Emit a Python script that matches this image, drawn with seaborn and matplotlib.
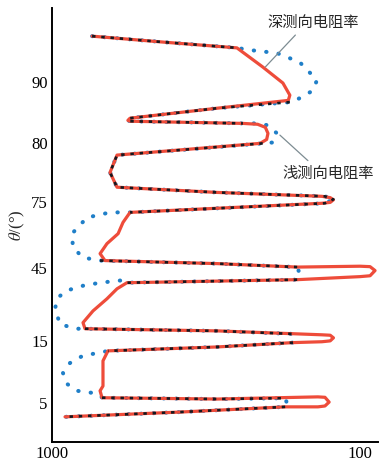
import numpy as np
import pandas as pd
import seaborn as sns
import matplotlib
matplotlib.use("Agg")
from matplotlib import pyplot as plt

# deep laterolog resistivity (ohm.m) along the track, top to bottom
deep_res = [741, 430, 251, 207, 178, 169, 171, 291, 558, 567, 558, 240, 215, 203, 199, 201,
            211, 615, 648, 615, 291, 133, 125, 122, 125, 133, 558, 588, 610, 663, 698, 673,
            291, 160, 100, 92.8, 89.4, 92.8, 100, 160, 571, 615, 663, 736, 793, 781, 291,
            133, 125, 122, 125, 133, 165, 291, 658, 683, 683, 698, 688, 291, 137, 130, 126,
            130, 137, 175, 384, 907]
deep_pos = [93.5, 92.1, 90.8, 86.4, 82.7, 79.9, 78.7, 76.9, 74.6, 74.1, 73.9, 73.4, 73.2,
            72.5, 71.1, 69.7, 68.8, 66.1, 62.1, 58.7, 57.5, 56.6, 56.3, 55.8, 55.2, 55.0,
            52.9, 50.6, 48.0, 45.7, 43.4, 41.8, 41.1, 40.3, 40.5, 40.4, 39.5, 38.3, 38.1,
            37.4, 36.7, 35.3, 33.0, 30.2, 27.5, 26.1, 25.6, 24.7, 24.6, 24.0, 23.3, 23.1,
            22.9, 21.9, 21.0, 18.7, 12.9, 11.8, 10.2, 9.9, 10.4, 10.3, 9.2, 8.3, 8.1, 8.1,
            6.9, 5.8]

# shallow laterolog resistivity; sep = 1 where it leaves the deep curve
shallow_res = [741, 430, 251, 228, 186, 157, 138, 142, 157, 169, 291, 558, 567, 558, 240,
               219, 200, 186, 192, 207, 615, 648, 615, 291, 130, 122, 130, 558,
               648, 770, 861, 855, 793, 698, 291, 160, 157, 160, 571,
               601, 698, 793, 894, 956, 978, 942, 842, 781, 291, 165, 163, 165, 291, 658,
               698, 793, 874, 921, 894, 829, 736, 698, 688, 291, 175, 173, 175, 384, 907]
shallow_pos = [93.5, 92.1, 90.8, 90.3, 89.6, 87.5, 83.4, 81.0, 79.2, 78.3, 76.9, 74.6, 74.1,
               73.9, 73.4, 73.4, 73.0, 71.1, 69.0, 68.8, 66.1, 62.1, 58.7, 57.5, 56.6, 55.9,
               55.0, 52.9, 52.9, 51.7, 48.0, 44.8, 42.5, 41.8, 41.1, 40.3, 38.8, 37.4, 36.7,
               37.2, 36.7, 36.0, 34.9, 33.3, 30.7, 27.2, 26.1, 26.1, 25.6, 24.9, 23.9, 22.9,
               21.9, 21.0, 20.6, 19.9, 18.2, 15.9, 13.4, 11.8, 11.3, 10.9, 10.2, 9.9, 10.1,
               9.1, 8.1, 6.9, 5.8]
shallow_sep = [0, 0, 0, 1, 1, 1, 1, 1, 1, 0, 0, 0, 0, 0, 0,
               1, 1, 1, 1, 0, 0, 0, 0, 0, 0, 0, 0, 0,
               1, 1, 1, 1, 1, 0, 0, 0, 1, 0, 0,
               1, 1, 1, 1, 1, 1, 1, 1, 0, 0, 0, 1, 0, 0, 0,
               1, 1, 1, 1, 1, 1, 1, 1, 0, 0, 0, 1, 0, 0, 0]

ytick_pos = [9.0, 23.3, 40.2, 55.2, 68.8, 82.9]
ytick_lab = ["5", "15", "45", "75", "80", "90"]

deep = pd.DataFrame({"res": deep_res, "pos": deep_pos})
shallow = pd.DataFrame({"res": shallow_res, "pos": shallow_pos, "sep": shallow_sep})
shared = shallow.copy()
shared.loc[shared["sep"] == 1, ["res", "pos"]] = np.nan

sns.set_style("white")
plt.rcParams["font.family"] = ["Liberation Serif", "DejaVu Serif"]
plt.rcParams["mathtext.fontset"] = "stix"

fig = plt.figure(figsize=(3.85, 4.67), dpi=100)
ax = fig.add_axes([0.135, 0.0535, 0.847, 0.9295])

# shallow curve (blue dots), deep curve (red), dark dashes where they coincide
sns.lineplot(data=shallow, x="res", y="pos", sort=False, estimator=None, ax=ax,
             color="#1f7fc8", lw=2.9, linestyle=(0, (0.1, 3.0)),
             dash_capstyle="round", zorder=1)
sns.lineplot(data=deep, x="res", y="pos", sort=False, estimator=None, ax=ax,
             color="#ee4c3a", lw=2.3, zorder=2)
ax.plot(shared["res"], shared["pos"], color="#15181f", lw=1.9,
        linestyle=(0, (1.3, 2.2)), zorder=3)

ax.set_xscale("log")
ax.set_xlim(1000, 87.4)
ax.set_ylim(0, 100)
ax.set_xticks([1000, 100])
ax.set_xticklabels(["1000", "100"])
ax.minorticks_off()
ax.set_yticks(ytick_pos)
ax.set_yticklabels(ytick_lab)
ax.tick_params(direction="in", length=4, width=1, labelsize=12, pad=3, colors="black")
ax.set_xlabel("")
ax.set_ylabel(r"$\theta$/(°)", fontsize=12, labelpad=3)

for s in ["top", "right"]:
    ax.spines[s].set_visible(False)
for s in ["left", "bottom"]:
    ax.spines[s].set_color("black")
    ax.spines[s].set_linewidth(1.4)

cjk = ["Noto Sans CJK SC", "DejaVu Sans"]
ax.annotate("深测向电阻率", xy=(203, 86.4), xytext=(142, 96.7), ha="center", va="center",
            fontsize=11, family=cjk,
            arrowprops=dict(arrowstyle="-", color="#7d8c92", lw=0.9, relpos=(0.35, 0),
                            shrinkA=1, shrinkB=0))
ax.annotate("浅测向电阻率", xy=(182, 70.7), xytext=(127, 61.9), ha="center", va="center",
            fontsize=11, family=cjk,
            arrowprops=dict(arrowstyle="-", color="#7d8c92", lw=0.9, relpos=(0.33, 1),
                            shrinkA=1, shrinkB=0))

fig.savefig("out.png", dpi=100)
